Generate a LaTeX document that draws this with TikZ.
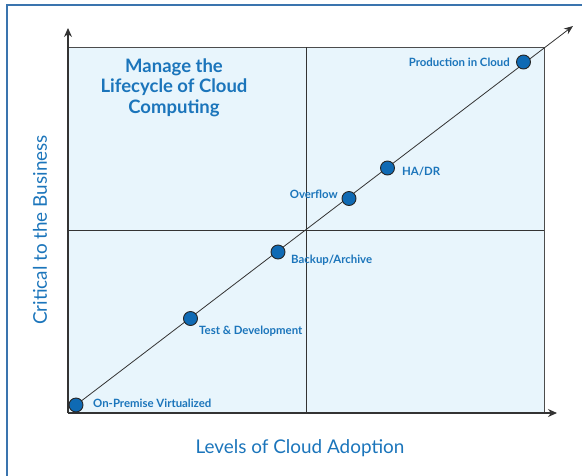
\documentclass[tikz,border=0pt]{standalone}
\usepackage{fontspec}
\setmainfont{Lato}
\usetikzlibrary{arrows.meta}
\definecolor{tblue}{HTML}{1B75BB}
\definecolor{dotblue}{HTML}{0F6AB4}
\definecolor{frameblue}{HTML}{3A74AE}
\definecolor{boxfill}{HTML}{E8F5FC}
\definecolor{axisgray}{HTML}{333333}
\tikzset{
  pt/.style={circle,draw=black!85,line width=0.9pt,fill=dotblue,minimum size=14pt,inner sep=0pt},
  lab/.style={text=tblue,font=\bfseries\fontsize{11.4}{13}\selectfont,inner sep=0pt},
  axlab/.style={text=tblue,font=\fontsize{18.9}{21}\selectfont,inner sep=0pt},
  ax/.style={draw=axisgray,line width=1.1pt,-{Stealth[length=9pt,width=8pt]}}
}
\begin{document}
\begin{tikzpicture}[x=1pt,y=-1pt]
\useasboundingbox (0,0) rectangle (582,475);
% outer frame
\draw[frameblue,line width=1.6pt] (7,480) -- (7,5) -- (590,5);
% box
\fill[boxfill] (68,47) rectangle (544,413);
\draw[black!70,line width=1pt] (68,47) rectangle (544,413);
\draw[black!80,line width=1pt] (306,47) -- (306,413);
\draw[black!80,line width=1pt] (68,230) -- (544,230);
% axes
\coordinate (O) at (68,413);
\coordinate (Ytip) at (68,28);
\coordinate (Xtip) at (557,413);
\draw[ax] (O) -- (Ytip);
\draw[ax] (O) -- (Xtip);
% diagonal
\coordinate (D0) at (76,405);
\coordinate (D1) at (573,26);
\draw[draw=axisgray,line width=0.8pt,-{Stealth[length=9pt,width=7pt]}] (D0) -- (D1);
% points
\node[pt] (p1) at (76,405) {};
\node[pt] (p2) at (190.5,318.5) {};
\node[pt] (p3) at (278,252) {};
\node[pt] (p4) at (349,198.5) {};
\node[pt] (p5) at (387.5,168) {};
\node[pt] (p6) at (523.5,62) {};
% labels
\node[lab,anchor=west] (l1) at (93,403.5) {On-Premise Virtualized};
\node[lab,anchor=west] (l2) at (199,331.5) {Test \& Development};
\node[lab,anchor=west] (l3) at (291,260.5) {Backup/Archive};
\node[lab,anchor=east] (l4) at (338,194) {Overflow};
\node[lab,anchor=west] (l5) at (402,172) {HA/DR};
\node[lab,anchor=east] (l6) at (510,62) {Production in Cloud};
% title
\node[text=tblue,font=\bfseries\fontsize{18.5}{20.5}\selectfont,align=center,inner sep=0pt] (title) at (174,87.5) {Manage the\\Lifecycle of Cloud\\Computing};
% axis labels
\node[axlab,rotate=90] (ylab) at (40,230) {Critical to the Business};
\node[axlab] (xlab) at (300,448) {Levels of Cloud Adoption};
\end{tikzpicture}
\end{document}
